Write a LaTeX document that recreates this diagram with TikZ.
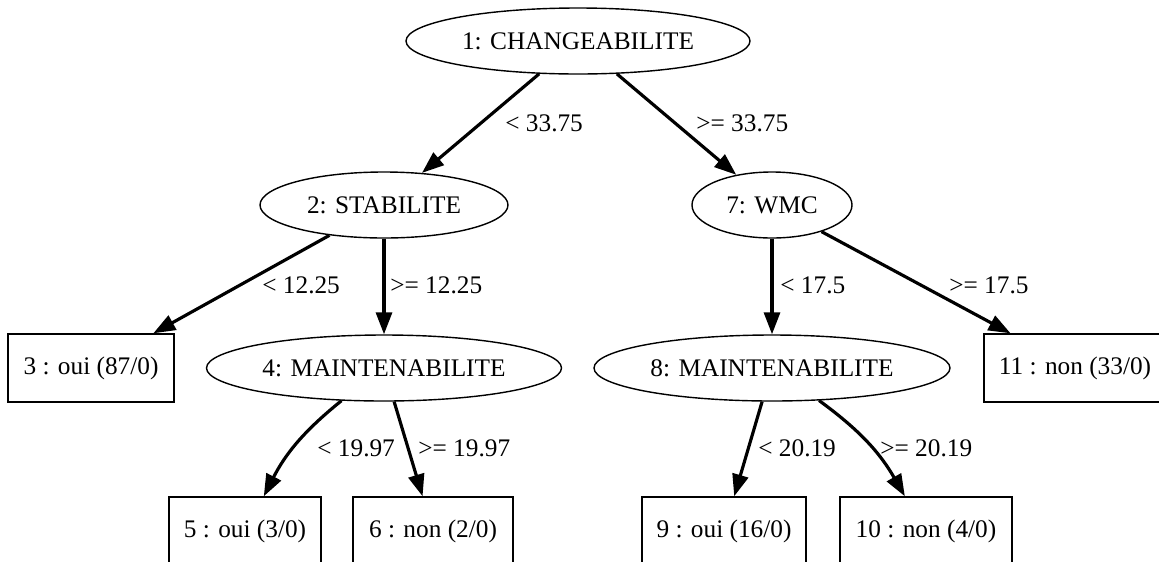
\documentclass[tikz,border=0pt]{standalone}
\usepackage{fontspec}
\setmainfont{Liberation Serif}
\usetikzlibrary{arrows.meta,shapes.geometric}

\begin{document}
\begin{tikzpicture}[
  font=\fontsize{14.4}{17}\selectfont,
  split/.style={ellipse,draw=black,line width=0.8pt,minimum height=1.32cm,
    inner sep=0pt},
  leaf/.style={rectangle,draw=black,line width=0.8pt,minimum height=1.36cm,
    inner sep=0pt},
  branch/.style={line width=1.8pt,-{Triangle[length=4.4mm,width=3.2mm]}},
  cond/.style={anchor=west,inner sep=0pt}
]
\clip (0,0) rectangle (23.18,-11.22);
% tests
\node[split,minimum width=6.88cm] (n1) at (11.56,-0.82) {1: CHANGEABILITE};
\node[split,minimum width=4.96cm] (n2) at (7.68,-4.10) {2: STABILITE};
\node[split,minimum width=3.20cm] (n7) at (15.44,-4.10) {7: WMC};
\node[split,minimum width=7.10cm] (n4) at (7.68,-7.36) {4: MAINTENABILITE};
\node[split,minimum width=7.12cm] (n8) at (15.44,-7.36) {8: MAINTENABILITE};
% leaves
\node[leaf,minimum width=3.32cm] (n3) at (1.82,-7.36) {3 : oui (87/0)};
\node[leaf,minimum width=3.64cm] (n11) at (21.50,-7.36) {11 : non (33/0)};
\node[leaf,minimum width=3.04cm] (n5) at (4.90,-10.62) {5 : oui (3/0)};
\node[leaf,minimum width=3.20cm] (n6) at (8.66,-10.62) {6 : non (2/0)};
\node[leaf,minimum width=3.28cm] (n9) at (14.48,-10.62) {9 : oui (16/0)};
\node[leaf,minimum width=3.44cm] (n10) at (18.52,-10.62) {10 : non (4/0)};
% branches
\draw[branch] (n1) -- (n2);
\draw[branch] (n1) -- (n7);
\draw[branch] (n2) -- (n3);
\draw[branch] (n2) -- (n4);
\draw[branch] (n7) -- (n8);
\draw[branch] (n7) -- (n11);
\draw[branch] (n4) to[bend right=12] (n5);
\draw[branch] (n4) -- (n6);
\draw[branch] (n8) -- (n9);
\draw[branch] (n8) to[bend left=12] (n10);
% conditions
\node[cond] (c12) at (10.10,-2.46) {< 33.75};
\node[cond] (c17) at (13.92,-2.46) {>= 33.75};
\node[cond] (c23) at (5.24,-5.70) {< 12.25};
\node[cond] (c24) at (7.80,-5.70) {>= 12.25};
\node[cond] (c78) at (15.60,-5.70) {< 17.5};
\node[cond] (c711) at (18.98,-5.70) {>= 17.5};
\node[cond] (c45) at (6.34,-8.96) {< 19.97};
\node[cond] (c46) at (8.36,-8.96) {>= 19.97};
\node[cond] (c89) at (15.16,-8.96) {< 20.19};
\node[cond] (c810) at (17.60,-8.96) {>= 20.19};
\end{tikzpicture}
\end{document}
